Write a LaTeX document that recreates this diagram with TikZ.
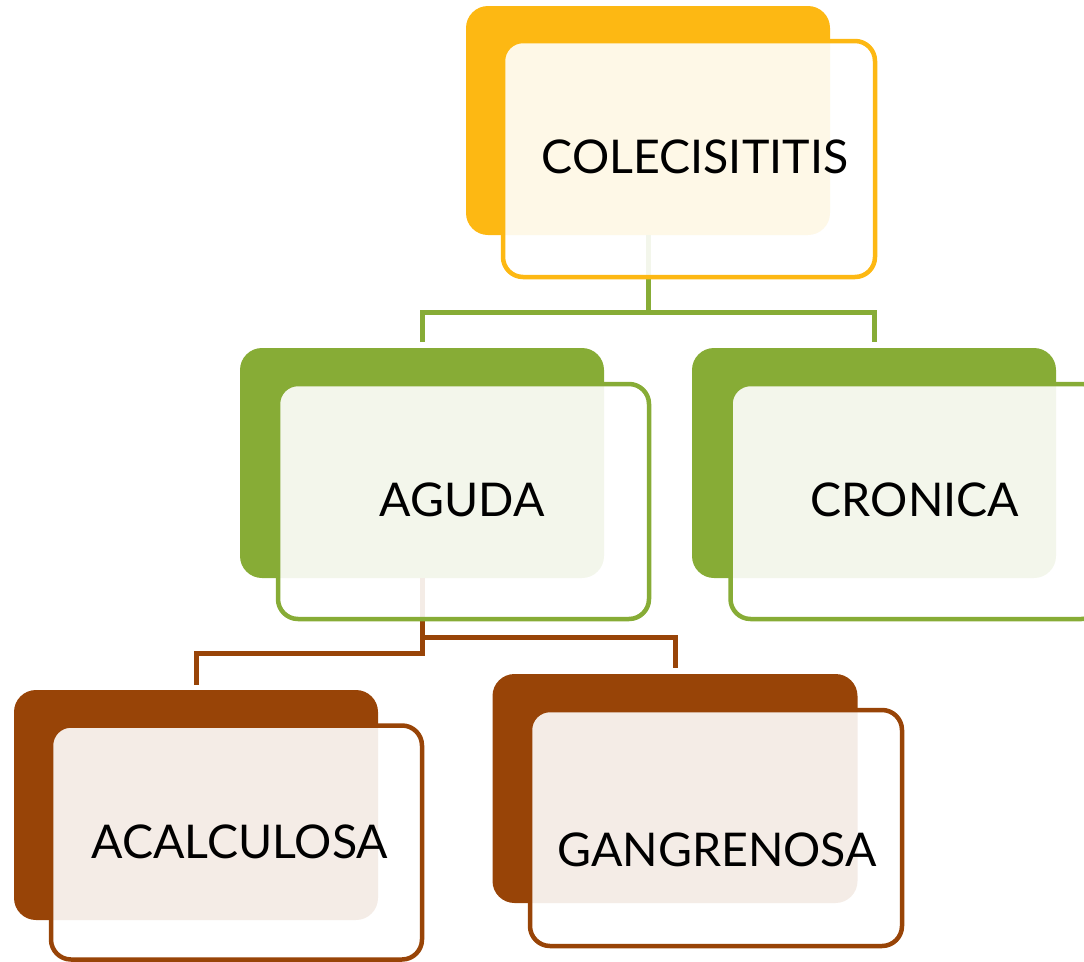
\documentclass[tikz,border=0pt]{standalone}
\usepackage{fontspec}
\setmainfont{Lato}
\definecolor{cyel}{HTML}{FDB813}
\definecolor{cgrn}{HTML}{87AC36}
\definecolor{cbrn}{HTML}{984407}
\tikzset{
  backbox/.style={rectangle, rounded corners=22pt, inner sep=0pt},
  frontbox/.style={rectangle, rounded corners=20pt, inner sep=0pt, fill=white, fill opacity=0.9, line width=4.5pt},
  lbl/.style={inner sep=0pt, font=\fontsize{46.5}{50}\selectfont, text=black},
  conn/.style={line width=5pt}
}
\begin{document}
\begin{tikzpicture}[x=1pt,y=-1pt]
\useasboundingbox (0,0) rectangle (1084,961);
% back boxes
\node[backbox, fill=cyel, minimum width=364pt, minimum height=229pt] (colB) at (648,120.5) {};
\node[backbox, fill=cgrn, minimum width=364pt, minimum height=230pt] (agB) at (422,463) {};
\node[backbox, fill=cgrn, minimum width=364pt, minimum height=230pt] (crB) at (874,463) {};
\node[backbox, fill=cbrn, minimum width=364pt, minimum height=230pt] (acB) at (196,805) {};
\node[backbox, fill=cbrn, minimum width=365pt, minimum height=229pt] (gaB) at (675,788.5) {};
% connector points
\coordinate (j1) at (648,312);
\coordinate (j1l) at (422,312);
\coordinate (j1r) at (874,312);
\coordinate (e1l) at (422,342);
\coordinate (e1r) at (874,342);
\coordinate (j2a) at (422,653);
\coordinate (j2al) at (196,653);
\coordinate (e2a) at (196,685);
\coordinate (j2b) at (422,637);
\coordinate (j2br) at (675,637);
\coordinate (e2b) at (675,668);
% connectors
\draw[conn, cgrn] (colB.south) -- (j1) -- (j1l) -- (e1l);
\draw[conn, cgrn] (j1) -- (j1r) -- (e1r);
\draw[conn, cbrn] (agB.south) -- (j2a) -- (j2al) -- (e2a);
\draw[conn, cbrn] (j2b) -- (j2br) -- (e2b);
% front boxes
\node[frontbox, draw=cyel, minimum width=372pt, minimum height=236pt] (colF) at (689,159) {};
\node[frontbox, draw=cgrn, minimum width=371pt, minimum height=235pt] (agF) at (463.5,501.5) {};
\node[frontbox, draw=cgrn, minimum width=371pt, minimum height=235pt] (crF) at (916,501.5) {};
\node[frontbox, draw=cbrn, minimum width=371pt, minimum height=234pt] (acF) at (236.5,842.5) {};
\node[frontbox, draw=cbrn, minimum width=372pt, minimum height=236pt] (gaF) at (716,828) {};
% labels
\node[lbl] (colT) at (695,157) {COLECISITITIS};
\node[lbl] (agT) at (462,500) {AGUDA};
\node[lbl] (crT) at (915,500) {CRONICA};
\node[lbl] (acT) at (240,842) {ACALCULOSA};
\node[lbl] (gaT) at (717,850) {GANGRENOSA};
\end{tikzpicture}
\end{document}
